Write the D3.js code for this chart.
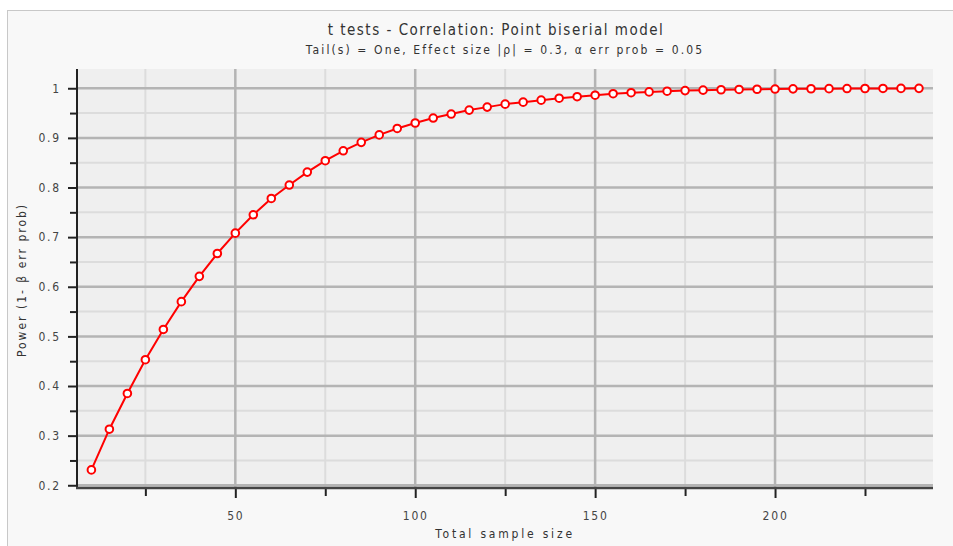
<!DOCTYPE html>
<meta charset="utf-8">
<style>
  body { margin: 0; background: #fff; }
  text { fill: #333; }
</style>
<body>
<div id="chart"></div>
<script src="https://d3js.org/d3.v7.min.js"></script>
<script>

// total sample size (N) and power values
var sampleSize = [10, 15, 20, 25, 30, 35, 40, 45, 50, 55, 60, 65, 70, 75, 80, 85, 90, 95,
  100, 105, 110, 115, 120, 125, 130, 135, 140, 145, 150, 155, 160, 165, 170, 175, 180,
  185, 190, 195, 200, 205, 210, 215, 220, 225, 230, 235, 240];
var power = [0.231, 0.313, 0.385, 0.453, 0.514, 0.570, 0.621, 0.667, 0.708, 0.745, 0.778,
  0.805, 0.831, 0.854, 0.874, 0.891, 0.906, 0.919, 0.930, 0.940, 0.948, 0.956, 0.962,
  0.968, 0.972, 0.976, 0.980, 0.983, 0.986, 0.989, 0.991, 0.9927, 0.9941, 0.9953, 0.9962,
  0.997, 0.9976, 0.998, 0.9984, 0.9988, 0.999, 0.9992, 0.9994, 0.9995, 0.9996, 0.9997, 0.9998];

var yMajor = [0.2, 0.3, 0.4, 0.5, 0.6, 0.7, 0.8, 0.9, 1];
var yMinor = [0.25, 0.35, 0.45, 0.55, 0.65, 0.75, 0.85, 0.95];
var xMajor = [50, 100, 150, 200];
var xMinor = [25, 75, 125, 175, 225];

var titleText = "t tests - Correlation: Point biserial model";
var subtitleText = "Tail(s) = One, Effect size |\u03c1| = 0.3, \u03b1 err prob = 0.05";

var width = 953, height = 546;
var plot = {left: 77, right: 933, top: 69, bottom: 488};

var svg = d3.select("#chart").append("svg")
  .attr("width", width)
  .attr("height", height);

// outer frame
svg.append("rect")
  .attr("x", 7.5).attr("y", 10.5)
  .attr("width", width).attr("height", height)
  .style("fill", "#f8f8f8")
  .style("stroke", "#c8c8c8");

var x = d3.scaleLinear().domain([6, 243.9]).range([plot.left, plot.right]);
var y = d3.scaleLinear().domain([0.1945, 1.0388]).range([plot.bottom, plot.top]);

svg.append("rect")
  .attr("x", plot.left).attr("y", plot.top)
  .attr("width", plot.right - plot.left).attr("height", plot.bottom - plot.top)
  .style("fill", "#efefef");

// grid lines
var grid = svg.append("g");
grid.selectAll(".ymin").data(yMinor).enter().append("line")
  .attr("x1", plot.left).attr("x2", plot.right)
  .attr("y1", d => y(d)).attr("y2", d => y(d))
  .style("stroke", "#dcdcdc").style("stroke-width", 2);
grid.selectAll(".xmin").data(xMinor).enter().append("line")
  .attr("y1", plot.top).attr("y2", plot.bottom)
  .attr("x1", d => x(d)).attr("x2", d => x(d))
  .style("stroke", "#dcdcdc").style("stroke-width", 2);
grid.selectAll(".ymaj").data(yMajor).enter().append("line")
  .attr("x1", plot.left).attr("x2", plot.right)
  .attr("y1", d => y(d)).attr("y2", d => y(d))
  .style("stroke", "#b4b4b4").style("stroke-width", 2.5);
grid.selectAll(".xmaj").data(xMajor).enter().append("line")
  .attr("y1", plot.top).attr("y2", plot.bottom)
  .attr("x1", d => x(d)).attr("x2", d => x(d))
  .style("stroke", "#b4b4b4").style("stroke-width", 2.5);

// axes
var fontFam = "'DejaVu Sans Condensed', 'DejaVu Sans', sans-serif";

svg.append("g").attr("transform", "translate(" + plot.left + ",0)")
  .call(d3.axisLeft(y).tickValues(yMajor).tickSize(9).tickPadding(7).tickFormat(d3.format("")));
svg.append("g").attr("transform", "translate(" + plot.left + ",0)")
  .call(d3.axisLeft(y).tickValues(yMinor).tickSize(7).tickFormat(""));

svg.append("g").attr("transform", "translate(0," + plot.bottom + ")")
  .call(d3.axisBottom(x).tickValues(xMajor).tickSize(10).tickPadding(13));
svg.append("g").attr("transform", "translate(0," + plot.bottom + ")")
  .call(d3.axisBottom(x).tickValues(xMinor).tickSize(8).tickFormat(""));

svg.selectAll(".domain").remove();
svg.selectAll(".tick line").style("stroke", "#222").style("stroke-width", 2);
svg.selectAll(".tick text")
  .style("font-family", fontFam)
  .style("font-size", "12px")
  .style("letter-spacing", "1.8px")
  .style("fill", "#444");

// axis lines
svg.append("line")
  .attr("x1", plot.left).attr("x2", plot.left)
  .attr("y1", plot.top).attr("y2", plot.bottom + 1)
  .style("stroke", "#222").style("stroke-width", 2);
svg.append("line")
  .attr("x1", plot.left - 1).attr("x2", plot.right)
  .attr("y1", plot.bottom).attr("y2", plot.bottom)
  .style("stroke", "#444").style("stroke-width", 2.5);

// data line + markers
var pts = sampleSize.map((n, i) => [n, power[i]]);

svg.append("path")
  .datum(pts)
  .attr("d", d3.line().x(d => x(d[0])).y(d => y(d[1])))
  .style("fill", "none")
  .style("stroke", "#ff0000")
  .style("stroke-width", 2);

svg.selectAll(".pt").data(pts).enter().append("circle")
  .attr("cx", d => x(d[0]))
  .attr("cy", d => y(d[1]))
  .attr("r", 3.8)
  .style("fill", "#fff")
  .style("stroke", "#ff0000")
  .style("stroke-width", 2);

// titles
svg.append("text")
  .attr("x", 496).attr("y", 35)
  .attr("text-anchor", "middle")
  .style("font-family", fontFam)
  .style("font-size", "15px")
  .style("letter-spacing", "1.5px")
  .style("fill", "#333")
  .text(titleText);

svg.append("text")
  .attr("x", 505).attr("y", 54)
  .attr("text-anchor", "middle")
  .style("font-family", fontFam)
  .style("font-size", "12px")
  .style("letter-spacing", "2.1px")
  .style("fill", "#333")
  .text(subtitleText);

svg.append("text")
  .attr("x", 505).attr("y", 538)
  .attr("text-anchor", "middle")
  .style("font-family", fontFam)
  .style("font-size", "12px")
  .style("letter-spacing", "2.8px")
  .style("fill", "#333")
  .text("Total sample size");

svg.append("text")
  .attr("transform", "translate(26,280) rotate(-90)")
  .attr("text-anchor", "middle")
  .style("font-family", fontFam)
  .style("font-size", "12px")
  .style("letter-spacing", "2px")
  .style("fill", "#333")
  .text("Power (1- \u03b2 err prob)");

</script>
</body>
